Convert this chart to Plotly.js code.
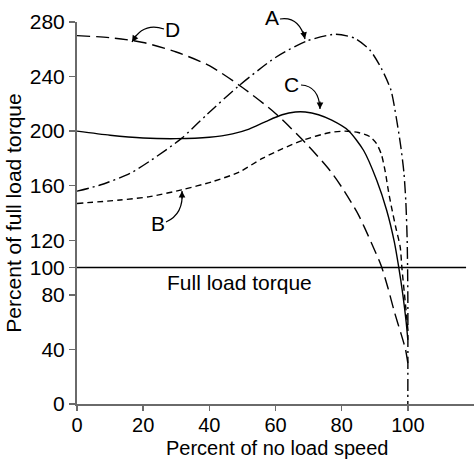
<!DOCTYPE html>
<html>
<head>
<meta charset="utf-8">
<script src="https://cdn.plot.ly/plotly-3.0.1.min.js"></script>
<style>html,body{margin:0;padding:0;background:#fff;}#chart{width:474px;height:459px;}</style>
</head>
<body>
<div id="chart"></div>
<script>
// Curve A (dash-dot)
const speedA  = [0, 7, 16, 22, 31.6, 39.2, 48.8, 60, 69.4, 78, 84, 88.5, 92, 94.9, 96.5, 97.8, 98.8, 99.4, 99.8, 100, 100];
const torqueA = [156, 160.5, 169, 178, 194.7, 212, 233, 254, 266, 271, 268, 259.5, 246, 230, 210, 190, 170, 148, 120, 80, 0];
// Curve B (short dash)
const speedB  = [0, 13, 22, 31.6, 41, 49, 56, 62, 68.4, 76.5, 81, 85, 88.5, 90.5, 92, 93.2, 94, 95, 96.4, 97.7, 98.2, 99, 99.6, 100];
const torqueB = [147, 149.5, 152, 157, 163, 170, 180, 187, 193.5, 199, 200, 199, 196, 191, 183, 170, 158, 145, 129, 115, 100, 80, 65, 55];
// Curve C (solid)
const speedC  = [0, 10, 20, 30, 40, 47, 52, 57, 62, 66, 69, 73, 77, 82, 86.6, 90.6, 93.6, 95.9, 97.2, 98.5, 99.5, 100];
const torqueC = [200, 197, 195, 194.5, 195.5, 198, 201.5, 207, 212, 214, 214, 212, 208, 200.5, 186, 164, 142, 119, 101, 80, 60, 47];
// Curve D (long dash)
const speedD  = [0, 10, 20, 30, 40, 50, 60, 70, 76.5, 80, 85, 89, 92, 94, 96, 98, 99.3, 100];
const torqueD = [270, 268.5, 265, 258, 248, 232, 213, 189, 171, 159, 139, 118, 101, 85, 67, 51, 40, 30];
// Full load torque reference
const fullLoadSpeed  = [0, 117.6];
const fullLoadTorque = [100, 100];

const xTicks = [0, 20, 40, 60, 80, 100];
const yTicks = [0, 40, 80, 100, 120, 160, 200, 240, 280];

const FONT = 'Liberation Sans, Arial, Helvetica, sans-serif';
const FS = 21;

function line(x, y, dash) {
  return {x: x, y: y, type: 'scatter', mode: 'lines',
          line: {color: '#000', width: 1.4, dash: dash, shape: 'spline', smoothing: 0.7},
          hoverinfo: 'skip', showlegend: false, cliponaxis: false};
}

const traces = [
  line(speedD, torqueD, '13px,6px'),
  line(speedA, torqueA, '12px,4px,2px,4px'),
  line(speedB, torqueB, '6px,4px'),
  line(speedC, torqueC, 'solid'),
  {x: fullLoadSpeed, y: fullLoadTorque, type: 'scatter', mode: 'lines',
   line: {color: '#000', width: 1.4}, hoverinfo: 'skip', showlegend: false}
];

// pixel -> paper helpers for decorations (plot area: x 77..474, y 22..404)
const L = 77, R = 474, T = 22, B = 404;
const px = v => (v - L) / (R - L);
const py = v => (B - v) / (B - T);

function stem(x0, y0, cx, cy, x1, y1) {
  return {type: 'path', xref: 'paper', yref: 'paper',
          path: `M ${px(x0)} ${py(y0)} Q ${px(cx)} ${py(cy)} ${px(x1)} ${py(y1)}`,
          line: {color: '#000', width: 1.2}};
}
function head(x1, y1, ax, ay) {
  return {xref: 'paper', yref: 'paper', x: px(x1), y: py(y1), ax: ax, ay: ay,
          text: '', showarrow: true, arrowhead: 2, arrowsize: 1.1, arrowwidth: 1.2,
          arrowcolor: '#000', standoff: 0};
}
function label(t, x, y, ya, fs) {
  return {xref: 'paper', yref: 'paper', x: px(x), y: py(y), text: t, showarrow: false,
          xanchor: 'center', yanchor: ya || 'middle', borderpad: 0,
          font: {family: FONT, size: fs || FS, color: '#000'}};
}

const layout = {
  width: 474, height: 459,
  margin: {l: L, r: 474 - R, t: T, b: 459 - B},
  paper_bgcolor: '#fff', plot_bgcolor: '#fff',
  font: {family: FONT, size: FS, color: '#000'},
  xaxis: {
    range: [0, 120], tickvals: xTicks, ticktext: xTicks.map(String),
    showgrid: false, zeroline: false, showline: true, linecolor: '#6a6a6a', linewidth: 2,
    ticks: 'outside', ticklen: 5, tickwidth: 1.5, tickcolor: '#6a6a6a',
    ticklabelstandoff: -3,
    tickfont: {family: FONT, size: 20, color: '#000'}
  },
  yaxis: {
    range: [0, 280], tickvals: yTicks, ticktext: yTicks.map(String),
    showgrid: false, zeroline: false, showline: true, linecolor: '#6a6a6a', linewidth: 2,
    ticks: 'outside', ticklen: 6, tickwidth: 1.5, tickcolor: '#6a6a6a',
    tickfont: {family: FONT, size: FS, color: '#000'},
    title: {text: 'Percent of full load torque', font: {family: FONT, size: FS, color: '#000'}, standoff: 2}
  },
  shapes: [
    stem(164, 29, 143, 22, 132, 42),
    stem(280, 19, 299, 16, 305, 39),
    stem(301, 85, 319, 86, 320, 109),
    stem(166, 222, 184, 214, 182, 191)
  ],
  annotations: [
    label('Percent of no load speed', 277, 460, 'bottom', 20),
    label('D', 172, 29),
    label('A', 272, 17),
    label('C', 291, 84),
    label('B', 158, 223),
    label('Full load torque', 239, 282),
    head(132, 42, 5, -8),
    head(305, 39, -2, -9),
    head(320, 109, 0, -9),
    head(182, 191, 0, 9)
  ]
};

Plotly.newPlot('chart', traces, layout, {staticPlot: true, displayModeBar: false});
</script>
</body>
</html>
